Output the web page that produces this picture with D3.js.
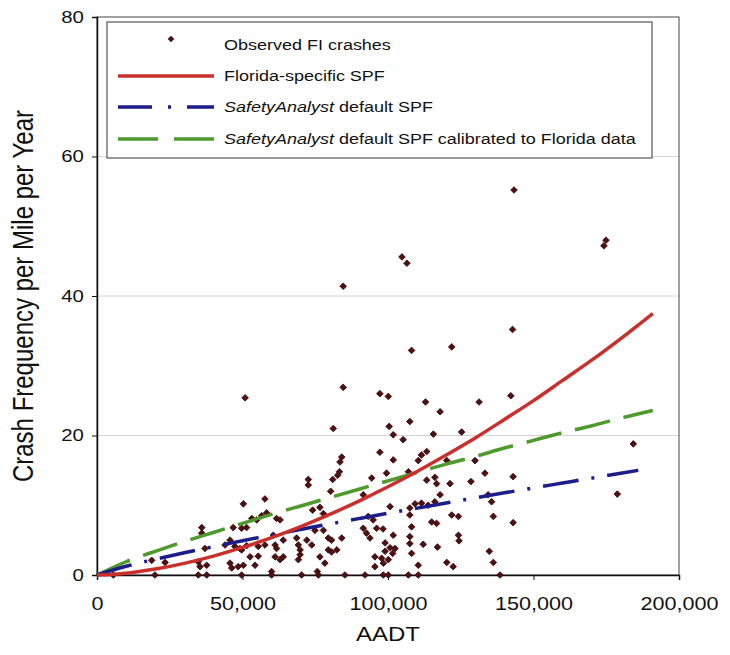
<!DOCTYPE html>
<html>
<head>
<meta charset="utf-8">
<script src="https://cdn.jsdelivr.net/npm/d3@7"></script>
<style>
  body { margin: 0; background: #fff; }
  text { font-family: "Liberation Sans", Arial, sans-serif; fill: #111; }
</style>
</head>
<body>
<div id="chart"></div>
<script>
// Observed FI crashes (AADT, crashes per mile per year)
const obsAadt = [
    5600, 18800, 19900, 23400, 34800, 34800, 35400, 36000, 36000, 37100, 37700, 37700,
    44000, 45700, 45700, 46300, 46800, 47400, 48500, 49100, 49700, 49700, 49700, 50300, 50300,
    50900, 51400, 51400, 52600, 53200, 54300, 54900, 55400, 55400, 56600, 57700, 57700, 58300,
    60000, 60000, 60600, 61200, 61200, 61700, 61700, 62900, 62900, 64000, 64000, 68600, 69200,
    69200, 69800, 69800, 70300, 72100, 72600, 72600, 73800, 74100, 74900, 75700, 76100, 76600,
    76600, 77800, 77800, 78300, 79500, 79500, 80300, 80600, 80600, 81000, 81200, 82400, 82700,
    83300, 83500, 84100, 84100, 84600, 84600, 85200, 91500, 91500, 92100, 92600, 93200, 93800,
    94400, 94900, 95500, 95500, 96100, 97200, 97200, 97800, 98300, 98400, 98400, 99000, 99000,
    99500, 100100, 100100, 100100, 100400, 100700, 100700, 101600, 101800, 101800, 101800,
    102400, 104800, 105200, 106500, 107000, 107000, 107500, 107500, 107500, 107500, 107500,
    108100, 108100, 108100, 109300, 110400, 110400, 110400, 111500, 111500, 112100, 112900,
    113300, 113300, 113800, 115000, 115600, 116100, 116100, 116700, 116700, 117000, 117900,
    117900, 120200, 120200, 121300, 121900, 121900, 122400, 124200, 124200, 124400, 125300,
    128500, 129900, 131300, 133300, 134400, 134800, 135600, 136200, 136200, 138500, 142200,
    142800, 143000, 143000, 143300, 174200, 174900, 178800, 184300
];
const obsCrashes = [
    0, 2.1, 0, 1.8, 1.9, 0, 1.2, 6.8, 6.0, 3.8, 1.4, 0,
    4.3, 5.0, 1.7, 1.0, 6.8, 4.1, 1.2, 3.8, 6.7, 3.6, 0, 10.2, 1.4,
    25.4, 6.8, 4.2, 2.6, 8.1, 1.4, 7.9, 4.1, 2.7, 8.5, 10.9, 4.3, 8.9,
    0.5, 0, 5.7, 4.3, 2.6, 8.1, 3.8, 7.9, 2.2, 5.0, 2.6, 5.3, 4.3,
    2.2, 3.6, 2.9, 0, 5.0, 13.7, 12.9, 4.3, 9.3, 6.4, 0.5, 0, 9.7,
    2.6, 8.8, 6.4, 1.7, 5.3, 3.6, 12.0, 5.0, 3.3, 13.7, 21.0, 3.6, 14.3,
    14.8, 16.2, 16.9, 5.3, 41.4, 26.9, 0, 11.5, 6.7, 0, 6.0, 8.4, 5.3,
    13.9, 7.9, 2.6, 1.2, 6.7, 26.0, 17.6, 2.4, 6.6, 1.7, 0, 4.6, 3.4,
    14.6, 25.6, 2.2, 0, 21.3, 9.8, 3.9, 3.1, 20.1, 16.5, 5.7,
    3.8, 45.6, 19.4, 44.7, 14.8, 0, 22.0, 9.6, 8.6, 5.5, 4.5,
    32.2, 6.9, 3.1, 10.2, 16.4, 1.4, 0, 17.2, 10.3, 4.4, 24.8,
    17.7, 13.6, 10.0, 7.6, 20.2, 14.0, 10.5, 13.1, 7.4, 4.0, 23.4,
    11.5, 16.4, 1.8, 13.1, 32.7, 8.6, 1.2, 8.4, 5.7, 4.9, 20.5,
    13.4, 16.4, 24.8, 14.6, 11.5, 3.4, 10.5, 8.4, 1.8, 0, 25.7,
    35.2, 14.1, 7.5, 55.2, 47.2, 48.0, 11.6, 18.8
];

// SPF curves
const spfAadt = [0, 10000, 20000, 30000, 40000, 50000, 60000, 70000, 80000, 90000, 100000,
    110000, 120000, 130000, 140000, 150000, 160000, 170000, 180000, 191000];
const floridaSpf = [0, 0.26, 0.85, 1.67, 2.71, 3.95, 5.36, 6.95, 8.69, 10.6, 12.65,
    14.84, 17.2, 19.65, 22.3, 25.0, 27.9, 30.8, 33.9, 37.5];
const calibratedSpf = [0, 1.9, 3.4, 4.8, 6.1, 7.4, 8.7, 9.9, 11.1, 12.3, 13.5,
    14.7, 15.9, 17.0, 18.2, 19.3, 20.4, 21.4, 22.5, 23.6];
const defaultAadt = [0, 10000, 20000, 30000, 40000, 50000, 60000, 70000, 80000, 90000, 100000,
    110000, 120000, 130000, 140000, 150000, 160000, 170000, 180000, 186000];
const defaultSpf = [0, 1.25, 2.25, 3.18, 4.06, 4.91, 5.73, 6.53, 7.32, 8.09, 8.85,
    9.59, 10.33, 11.06, 11.78, 12.49, 13.19, 13.89, 14.58, 15.0];

const xTicks = [0, 50000, 100000, 150000, 200000];
const yTicks = [0, 20, 40, 60, 80];

const stretch = "scale(1.2,1)"; // the reference text is a little wide

// Set up SVG dimensions and margins
const margin = { top: 17, right: 51, bottom: 80, left: 97 };
const width = 730 - margin.left - margin.right;
const height = 655 - margin.top - margin.bottom;

const svg = d3.select("#chart")
    .append("svg")
    .attr("width", 730)
    .attr("height", 655);

const g = svg.append("g")
    .attr("transform", `translate(${margin.left}, ${margin.top})`);

const x = d3.scaleLinear().domain([0, 200000]).range([0, width]);
const y = d3.scaleLinear().domain([0, 80]).range([height, 0]);

// Gridlines
g.selectAll(".grid")
    .data(yTicks.filter(d => d > 0 && d < 80))
    .enter()
    .append("line")
    .attr("x1", 0)
    .attr("x2", width)
    .attr("y1", d => y(d))
    .attr("y2", d => y(d))
    .attr("stroke", "#d4d4d4")
    .attr("stroke-width", 1);

// Plot frame
g.append("rect")
    .attr("width", width)
    .attr("height", height)
    .attr("fill", "none")
    .attr("stroke", "#444")
    .attr("stroke-width", 1);

// Axes
const xAxis = g.append("g")
    .attr("transform", `translate(0, ${height})`)
    .call(d3.axisBottom(x).tickValues(xTicks).tickSize(5).tickFormat(d3.format(",")));
xAxis.selectAll("text")
    .attr("y", 22)
    .style("font-size", "18px")
    .attr("transform", stretch);

const yAxis = g.append("g")
    .call(d3.axisLeft(y).tickValues(yTicks).tickSize(5));
yAxis.selectAll("text")
    .attr("x", -11)
    .style("font-size", "17px")
    .attr("transform", stretch);

g.selectAll(".domain").attr("stroke", "#111").attr("stroke-width", 1.5);
g.selectAll(".tick line").attr("stroke", "#111");

// Axis titles
svg.append("text")
    .attr("transform", `translate(33, ${margin.top + height / 2}) ${stretch} rotate(-90)`)
    .attr("text-anchor", "middle")
    .style("font-size", "24px")
    .text("Crash Frequency per Mile per Year");

svg.append("text")
    .attr("transform", `translate(${margin.left + width / 2}, 641) ${stretch}`)
    .attr("text-anchor", "middle")
    .style("font-size", "20px")
    .text("AADT");

// Observed points: small dark diamonds
const points = obsAadt.map((a, i) => ({ a, c: obsCrashes[i] }));
const marker = d3.symbol().type(d3.symbolSquare).size(22);

g.selectAll(".obs")
    .data(points)
    .enter()
    .append("path")
    .attr("class", "obs")
    .attr("d", marker)
    .attr("transform", d => `translate(${x(d.a)}, ${y(d.c)}) rotate(45)`)
    .attr("fill", "#4e1010")
    .attr("stroke", "#3a0808")
    .attr("stroke-width", 0.8);

// SPF lines
const line = d3.line()
    .x(d => x(d[0]))
    .y(d => y(d[1]))
    .curve(d3.curveMonotoneX);

const series = [
    { xs: spfAadt, ys: calibratedSpf, color: "#4e9a2d", dash: "36,14" },
    { xs: defaultAadt, ys: defaultSpf, color: "#1c1c8a", dash: "36,13,3,13" },
    { xs: spfAadt, ys: floridaSpf, color: "#c9302c", dash: null }
];

series.forEach(s => {
    g.append("path")
        .datum(s.xs.map((a, i) => [a, s.ys[i]]))
        .attr("d", line)
        .attr("fill", "none")
        .attr("stroke", s.color)
        .attr("stroke-width", 3.5)
        .attr("stroke-dasharray", s.dash);
});

// Legend
const legend = svg.append("g");
legend.append("rect")
    .attr("x", 107)
    .attr("y", 22)
    .attr("width", 545)
    .attr("height", 136)
    .attr("fill", "#fff")
    .attr("stroke", "#555")
    .attr("stroke-width", 1.2);

const rows = [45, 76, 107, 139];

legend.append("path")
    .attr("d", marker)
    .attr("transform", `translate(171, ${rows[0] - 6}) rotate(45)`)
    .attr("fill", "#4e1010");

legend.append("line")
    .attr("x1", 118).attr("x2", 214)
    .attr("y1", rows[1]).attr("y2", rows[1])
    .attr("stroke", "#c9302c").attr("stroke-width", 3.5);

legend.append("line")
    .attr("x1", 118).attr("x2", 214)
    .attr("y1", rows[2]).attr("y2", rows[2])
    .attr("stroke", "#1c1c8a").attr("stroke-width", 3.5)
    .attr("stroke-dasharray", "34,16,3,16");

legend.append("line")
    .attr("x1", 118).attr("x2", 214)
    .attr("y1", rows[3]).attr("y2", rows[3])
    .attr("stroke", "#4e9a2d").attr("stroke-width", 3.5)
    .attr("stroke-dasharray", "40,16");

const labels = [
    [null, "Observed FI crashes"],
    [null, "Florida-specific SPF"],
    ["SafetyAnalyst", " default SPF"],
    ["SafetyAnalyst", " default SPF calibrated to Florida data"]
];

labels.forEach((l, i) => {
    const t = legend.append("text")
        .attr("transform", `translate(224, ${rows[i]}) ${stretch}`)
        .attr("dy", "0.35em")
        .style("font-size", "15px");
    if (l[0]) t.append("tspan").style("font-style", "italic").text(l[0]);
    t.append("tspan").text(l[1]);
});
</script>
</body>
</html>
